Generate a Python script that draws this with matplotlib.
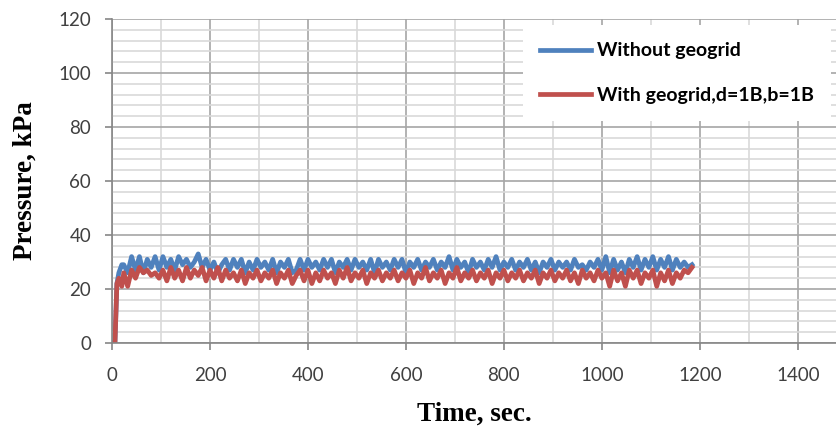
from matplotlib import pyplot as plt
from matplotlib.ticker import MultipleLocator

# COLORS
BLUE = "#4F81BD"
RED = "#C0504D"

# sampling times (sec): a short ramp, then every 8 s
time_sec = [0, 6, 10, 14, 20] + list(range(24, 1185, 8))

without_geogrid = [0, 0, 22, 26, 29,
    29, 26, 32, 27, 32, 26, 31, 28, 32, 27,
    32, 28, 31, 27, 32, 29, 31, 28, 30, 33,
    28, 31, 27, 30, 26, 29, 31, 27, 31, 28,
    31, 26, 30, 27, 31, 28, 30, 27, 31, 26,
    30, 28, 31, 26, 27, 31, 27, 31, 28, 30,
    27, 31, 28, 31, 26, 30, 28, 31, 27, 31,
    28, 30, 27, 31, 26, 31, 28, 30, 27, 31,
    28, 31, 26, 30, 28, 31, 27, 30, 28, 31,
    27, 30, 28, 32, 27, 31, 28, 30, 26, 31,
    28, 30, 27, 31, 28, 32, 27, 30, 28, 31,
    27, 30, 28, 31, 27, 30, 26, 30, 28, 31,
    27, 30, 28, 30, 27, 31, 28, 29, 27, 30,
    28, 31, 27, 32, 26, 31, 27, 30, 26, 31,
    28, 32, 27, 31, 28, 32, 27, 31, 28, 32,
    27, 31, 28, 30, 28, 29]

with_geogrid = [0, 0, 22, 24, 21,
    26, 21, 27, 24, 28, 26, 27, 25, 26, 24,
    27, 23, 28, 24, 27, 23, 28, 24, 27, 25,
    28, 23, 27, 24, 28, 23, 27, 24, 26, 23,
    27, 22, 26, 24, 27, 23, 26, 24, 27, 22,
    26, 24, 27, 22, 25, 27, 23, 27, 22, 26,
    23, 27, 24, 26, 22, 27, 24, 28, 23, 26,
    24, 27, 22, 26, 24, 27, 23, 26, 24, 27,
    23, 26, 24, 27, 22, 26, 24, 28, 23, 26,
    24, 27, 22, 26, 24, 28, 23, 26, 24, 27,
    23, 26, 24, 27, 22, 26, 24, 27, 23, 26,
    24, 27, 23, 26, 24, 27, 22, 26, 24, 27,
    23, 26, 24, 27, 23, 26, 22, 27, 24, 26,
    23, 27, 24, 26, 21, 27, 23, 26, 21, 27,
    24, 27, 22, 26, 24, 27, 21, 26, 23, 27,
    22, 26, 24, 27, 26, 28]

LABELS = ["Without geogrid", "With geogrid,d=1B,b=1B"]


def main():
    fig = plt.figure(figsize=(8.37, 4.33), dpi=100)
    ax = fig.add_axes([112 / 837, 1 - 343 / 433, 1 - 112 / 837, (343 - 19) / 433])

    ax.plot(time_sec, without_geogrid, color=BLUE, linewidth=3.4, label=LABELS[0],
            solid_joinstyle="round")
    ax.plot(time_sec, with_geogrid, color=RED, linewidth=3.4, label=LABELS[1],
            solid_joinstyle="round")

    ax.set_xlim(0, 1480)
    ax.set_ylim(0, 120)
    ax.xaxis.set_major_locator(MultipleLocator(200))
    ax.xaxis.set_minor_locator(MultipleLocator(100))
    ax.yaxis.set_major_locator(MultipleLocator(20))
    ax.yaxis.set_minor_locator(MultipleLocator(4))

    ax.grid(which="major", color="#A6A6A6", linewidth=1.2)
    ax.grid(which="minor", color="#D9D9D9", linewidth=1.2)
    ax.set_axisbelow(True)

    for side in ["top", "right"]:
        ax.spines[side].set_visible(False)
    for side in ["left", "bottom"]:
        ax.spines[side].set_color("#868686")
        ax.spines[side].set_linewidth(1.2)

    ax.tick_params(which="major", length=5, width=1.2, color="#868686",
                   labelsize=13.5, labelcolor="#404040")
    ax.tick_params(which="minor", length=0)
    ax.tick_params(axis="x", pad=12)
    ax.tick_params(axis="y", pad=10)
    for lbl in ax.get_xticklabels() + ax.get_yticklabels():
        lbl.set_fontfamily("Lato")

    ax.set_xlabel("Time, sec.", family="Liberation Serif", fontweight="bold",
                  fontsize=19.5, labelpad=13)
    ax.set_ylabel("Pressure, kPa", family="Liberation Serif", fontweight="bold",
                  fontsize=19.5, labelpad=15)

    leg = ax.legend(loc="upper right", bbox_to_anchor=(1.0, 1.0), frameon=True,
                    fancybox=False, edgecolor="none", facecolor="white", framealpha=1,
                    prop={"family": "Lato", "weight": "bold", "size": 14},
                    labelspacing=1.4, handlelength=2.6, handletextpad=0.3,
                    borderpad=0.9, borderaxespad=0.3)
    for line in leg.get_lines():
        line.set_linewidth(3.4)

    fig.savefig("out.png", dpi=100)


if __name__ == "__main__":
    main()
